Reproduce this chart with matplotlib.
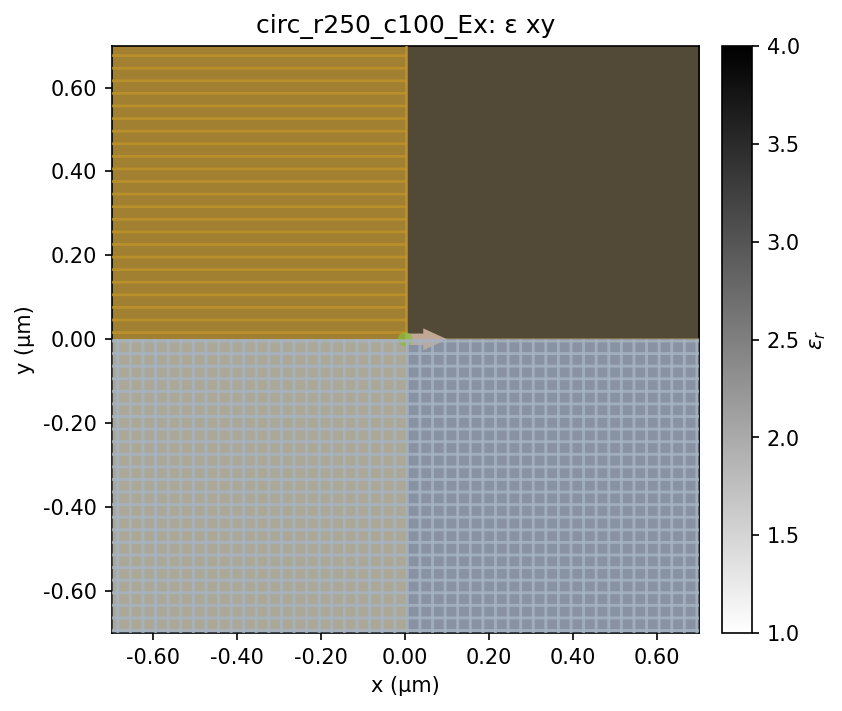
import numpy as np
import matplotlib
matplotlib.use('Agg')
import matplotlib.pyplot as plt
from matplotlib.patches import Rectangle, Circle

plt.rcParams['axes.unicode_minus'] = False

title = 'circ_r250_c100_Ex: ε xy'
span = 0.7
split = 0.003
eps_map = [[3.0, 3.0], [2.0, 2.0]]
ticks = [-0.6, -0.4, -0.2, 0.0, 0.2, 0.4, 0.6]
cbar_ticks = [1.0, 1.5, 2.0, 2.5, 3.0, 3.5, 4.0]

# region fills: x0, y0, w, h, colour
regions = [
    (-span, 0.0, span + split, span, '#a28032'),
    (split, 0.0, span - split, span, '#534937'),
    (-span, -span, span + split, span, '#b0a682'),
    (split, -span, span - split, span, '#808692'),
]

# mesh lines
top_rows = np.arange(0.016, 0.7, 0.03)
low_rows = np.arange(-0.004, -0.7, -0.03)
low_cols = np.arange(-0.685, 0.7, 0.03)

fig = plt.figure(figsize=(842 / 150, 711 / 150), dpi=150)
ax = fig.add_axes([111.5 / 842, 1 - 633.05 / 711, 587.5 / 842, 587.5 / 711])
cax = fig.add_axes([722 / 842, 1 - 633.3 / 711, 30 / 842, 587.4 / 711])

im = ax.imshow(eps_map, cmap='gray_r', vmin=1, vmax=4, origin='upper',
               extent=[-span, span, -span, span], aspect='auto')

for x0, y0, w, h, c in regions:
    ax.add_patch(Rectangle((x0, y0), w, h, facecolor=c, edgecolor='none', zorder=2))

# gold lines, upper left only
ax.hlines(top_rows, -span, split, color='#c09428', lw=1.3, alpha=0.8, zorder=3, snap=False)
ax.vlines(split, 0, span, color='#c09428', lw=1.3, alpha=0.85, zorder=3, snap=False)
ax.hlines(0.0, split, span, color='#8a7650', lw=1.1, zorder=3, snap=False)

# source arrow and origin marker
ax.annotate('', xy=(0.1, 0.0), xytext=(0.0, 0.0), zorder=4,
            arrowprops=dict(width=5.5, headwidth=10.5, headlength=11.5, shrinkA=0, shrinkB=0,
                            facecolor='#c0a894', edgecolor='none'))

# light overlay on lower half
ax.add_patch(Rectangle((-span, -span), 2 * span, span, facecolor='#a0afc8', alpha=0.3, zorder=5))
ax.add_patch(Circle((0.0, 0.0), 0.017, facecolor='#86c038', edgecolor='none', alpha=0.7, zorder=6))
ax.hlines(low_rows, -span, span, color='#a6b4c4', lw=1.4, zorder=7, alpha=0.8, snap=False)
ax.vlines(low_cols, -span, 0, color='#a6b4c4', lw=1.4, zorder=7, alpha=0.8, snap=False)

ax.set_xlim(-span, span)
ax.set_ylim(-span, span)
ax.set_xticks(ticks)
ax.set_yticks(ticks)
ax.set_xticklabels([f'{t:.2f}' for t in ticks])
ax.set_yticklabels([f'{t:.2f}' for t in ticks])
ax.set_xlabel('x (µm)')
ax.set_ylabel('y (µm)')
ax.set_title(title)

cb = fig.colorbar(im, cax=cax)
cb.set_ticks(cbar_ticks)
cb.set_label(r'$\varepsilon_r$')

fig.savefig('out.png', dpi=150)
